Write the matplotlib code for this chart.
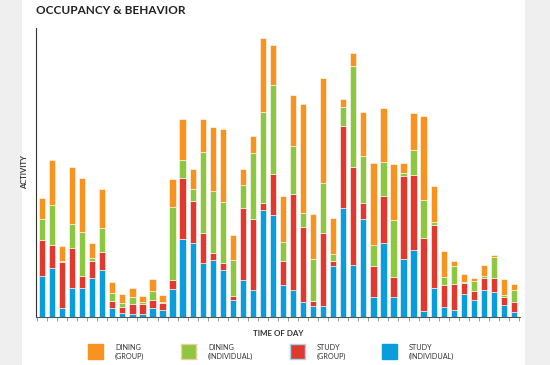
import numpy as np
import matplotlib
matplotlib.use("Agg")
import matplotlib.pyplot as plt
from matplotlib.patches import Rectangle

# activity per time slot, stacked bottom to top
study_individual = [41, 49, 9, 29, 29, 39, 47, 9, 4, 3, 3, 9, 7, 28, 78, 74, 54, 57,
                    47, 17, 37, 27, 107, 102, 32, 27, 15, 11, 11, 51, 109, 52, 98, 20,
                    74, 20, 58, 67, 6, 29, 10, 7, 23, 17, 27, 25, 12, 5]
study_group = [36, 23, 46, 40, 12, 17, 18, 7, 6, 10, 10, 8, 7, 9, 61, 42, 30, 7,
               7, 4, 72, 71, 7, 41, 24, 96, 75, 5, 73, 5, 82, 98, 16, 31,
               47, 20, 83, 75, 73, 63, 22, 26, 11, 9, 12, 14, 8, 10]
dining_individual = [21, 40, 1, 24, 44, 3, 24, 8, 4, 7, 2, 9, 1, 73, 18, 12, 81, 62,
                     61, 36, 23, 66, 91, 89, 19, 48, 14, 42, 50, 7, 19, 101, 47, 21,
                     34, 57, 3, 25, 38, 3, 8, 18, 1, 10, 2, 21, 2, 12]
dining_group = [21, 45, 15, 57, 54, 15, 39, 11, 9, 9, 6, 12, 7, 28, 41, 20, 33, 64,
                73, 25, 16, 17, 74, 40, 46, 51, 109, 45, 105, 36, 8, 13, 44, 82,
                54, 56, 10, 37, 84, 36, 26, 5, 8, 3, 11, 2, 16, 6]

series = [
    ("STUDY\n(INDIVIDUAL)", study_individual, "#0a9ddc"),
    ("STUDY\n(GROUP)", study_group, "#e2392f"),
    ("DINING\n(INDIVIDUAL)", dining_individual, "#8dc63f"),
    ("DINING\n(GROUP)", dining_group, "#f7931e"),
]

plt.rcParams['font.family'] = ['Lato', 'DejaVu Sans']

fig = plt.figure(figsize=(5.5, 3.65), dpi=100, facecolor="#efefef")
fig.patches.append(Rectangle((22 / 550, 0), (525 - 22) / 550, 1, transform=fig.transFigure,
                             facecolor="white", edgecolor="none", zorder=-10))

ax = fig.add_axes([36 / 550, 1 - 317 / 365, 484 / 550, 289 / 365])
ax.set_facecolor("none")
ax.set_zorder(1)

x = np.arange(len(study_individual))
bottom = np.zeros(len(x))
for name, vals, col in series:
    ax.bar(x, vals, width=0.62, bottom=bottom, color=col, edgecolor="white", linewidth=0.4)
    bottom += np.array(vals)

ax.set_xlim(-0.6, 47.6)
ax.set_ylim(0, 289)
for s in ["top", "right"]:
    ax.spines[s].set_visible(False)
ax.spines["left"].set_color("#333333")
ax.spines["left"].set_linewidth(0.8)
ax.spines["bottom"].set_color("#555555")
ax.spines["bottom"].set_linewidth(0.8)
ax.set_yticks([])
ax.set_xticks(np.arange(-0.5, 48, 1))
ax.set_xticklabels([])
ax.tick_params(axis="x", length=3, width=0.6, color="#888888")

ax.set_ylabel("ACTIVITY", fontsize=5.5, fontweight="bold", color="#333333", labelpad=6)
ax.set_xlabel("TIME OF DAY", fontsize=5.8, fontweight="bold", color="#333333", labelpad=3)

fig.text(36 / 550, 1 - 10 / 365, "OCCUPANCY & BEHAVIOR", fontsize=8.5, fontweight="bold",
         color="#222222", va="center", ha="left")

# legend along the bottom
legend_items = [
    ("DINING\n(GROUP)", "#f7931e", "#f7931e", 88),
    ("DINING\n(INDIVIDUAL)", "#8dc63f", "#f5c99a", 181),
    ("STUDY\n(GROUP)", "#e2392f", "#9fd8f0", 290),
    ("STUDY\n(INDIVIDUAL)", "#0a9ddc", "#0a9ddc", 382),
]
for label, face, edge, px in legend_items:
    fig.patches.append(Rectangle((px / 550, 1 - 359 / 365), 15 / 550, 15 / 365,
                                 transform=fig.transFigure, facecolor=face,
                                 edgecolor=edge, linewidth=1.0, zorder=2))
    fig.text((px + 27) / 550, 1 - 352 / 365, label, fontsize=5.2, color="#333333",
             va="center", ha="left", linespacing=1.3)

fig.savefig("out.png", dpi=100, facecolor=fig.get_facecolor())
